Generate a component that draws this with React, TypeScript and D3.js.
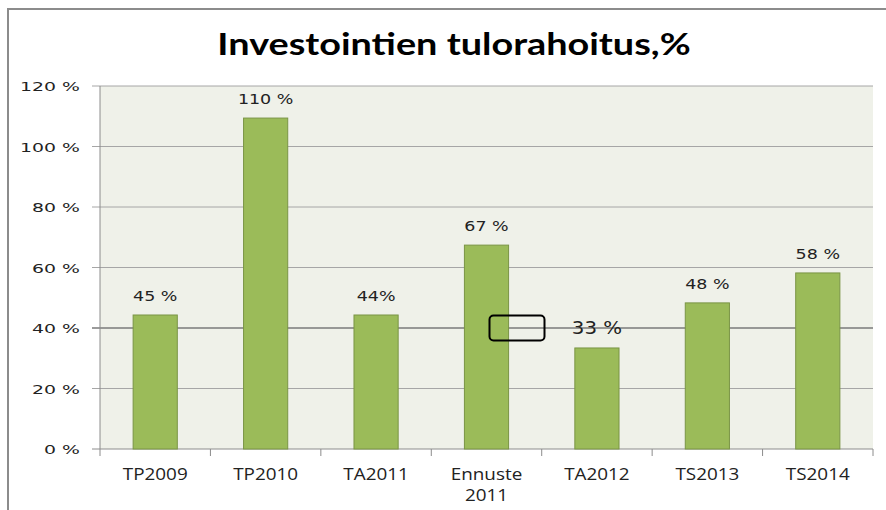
import React, { useRef, useEffect } from 'react';
import * as d3 from 'd3';

// chart values
const categories = ['TP2009', 'TP2010', 'TA2011', 'Ennuste\n2011', 'TA2012', 'TS2013', 'TS2014'];
const values = [0.443, 1.094, 0.443, 0.674, 0.334, 0.483, 0.582];
const valueLabels = ['45 %', '110 %', '44%', '67 %', '33 %', '48 %', '58 %'];
const yTicks = [0, 0.2, 0.4, 0.6, 0.8, 1.0, 1.2];
const title = 'Investointien tulorahoitus,%';

export default function App() {
  const svgRef = useRef<SVGSVGElement>(null);
  const width = 886;
  const height = 510;
  const margin = { top: 86, right: 13, bottom: 61, left: 100 };

  useEffect(() => {
    const svg = d3.select(svgRef.current);
    svg.selectAll('*').remove();

    const x = d3.scaleBand()
      .domain(categories)
      .range([margin.left, width - margin.right])
      .paddingInner(0.6)
      .paddingOuter(0.3);

    const y = d3.scaleLinear()
      .domain([0, 1.2])
      .range([height - margin.bottom, margin.top]);

    // the original picture is stretched sideways, so text is too
    const place = (px: number, py: number, sx: number) =>
      `translate(${px},${py}) scale(${sx},1)`;

    // outer frame
    svg.append('path')
      .attr('d', `M8,${height} L8,9 L${width},9`)
      .attr('fill', 'none')
      .attr('stroke', '#8c8c8c')
      .attr('stroke-width', 2);

    svg.append('text')
      .attr('transform', place(454, 55, 1.22))
      .attr('text-anchor', 'middle')
      .style('font-family', 'Lato, sans-serif')
      .style('font-weight', 'bold')
      .style('font-size', '31px')
      .attr('fill', '#000')
      .text(title);

    // plot area
    svg.append('rect')
      .attr('x', margin.left)
      .attr('y', margin.top)
      .attr('width', width - margin.left - margin.right)
      .attr('height', height - margin.top - margin.bottom)
      .attr('fill', '#eff1e9');

    // grid lines
    svg.append('g')
      .selectAll('line')
      .data(yTicks.filter(t => t > 0))
      .join('line')
      .attr('x1', margin.left - 8)
      .attr('x2', width - margin.right)
      .attr('y1', d => y(d))
      .attr('y2', d => y(d))
      .attr('stroke', d => (Math.abs(d - 0.4) < 1e-6 ? '#7a7a7a' : '#a6a6a6'))
      .attr('stroke-width', d => (Math.abs(d - 0.4) < 1e-6 ? 1.5 : 1));

    // y tick labels
    svg.append('g')
      .selectAll('text')
      .data(yTicks)
      .join('text')
      .attr('transform', d => place(margin.left - 20, y(d) + 5, 1.45))
      .attr('text-anchor', 'end')
      .style('font-family', '"DejaVu Sans", Verdana, sans-serif')
      .style('font-size', '13px')
      .attr('fill', '#222')
      .text(d => `${Math.round(d * 100)} %`);

    // y axis line
    svg.append('line')
      .attr('x1', margin.left).attr('x2', margin.left)
      .attr('y1', margin.top).attr('y2', y(0))
      .attr('stroke', '#8c8c8c');

    // x axis line + ticks
    svg.append('line')
      .attr('x1', margin.left - 8).attr('x2', width - margin.right)
      .attr('y1', y(0)).attr('y2', y(0))
      .attr('stroke', '#8c8c8c');

    const step = x.step();
    const bounds = d3.range(categories.length + 1).map(i => margin.left + i * step);
    svg.append('g')
      .selectAll('line')
      .data(bounds)
      .join('line')
      .attr('x1', d => d).attr('x2', d => d)
      .attr('y1', y(0)).attr('y2', y(0) + 7)
      .attr('stroke', '#8c8c8c');

    // bars
    svg.append('g')
      .selectAll('rect')
      .data(values)
      .join('rect')
      .attr('x', (d, i) => x(categories[i])!)
      .attr('y', d => y(d))
      .attr('width', x.bandwidth())
      .attr('height', d => y(0) - y(d))
      .attr('fill', '#9bbb59')
      .attr('stroke', '#7a9545')
      .attr('stroke-width', 1);

    // value labels
    svg.append('g')
      .selectAll('text')
      .data(values)
      .join('text')
      .attr('transform', (d, i) =>
        place(x(categories[i])! + x.bandwidth() / 2, y(d) - 14, i === 4 ? 1.1 : 1.25))
      .attr('text-anchor', 'middle')
      .style('font-family', '"DejaVu Sans", Verdana, sans-serif')
      .style('font-size', (d, i) => (i === 4 ? '18px' : '14px'))
      .attr('fill', '#222')
      .text((d, i) => valueLabels[i]);

    // category labels
    const catG = svg.append('g')
      .selectAll('text')
      .data(categories)
      .join('text')
      .attr('transform', d => place(x(d)! + x.bandwidth() / 2, y(0) + 31, 1.18))
      .attr('text-anchor', 'middle')
      .style('font-family', '"Open Sans", sans-serif')
      .style('font-size', '16px')
      .attr('fill', '#222');
    catG.selectAll('tspan')
      .data(d => d.split('\n'))
      .join('tspan')
      .attr('x', 0)
      .attr('dy', (d, i) => (i === 0 ? 0 : 21))
      .text(d => d);

    // annotation box around the 40 % line
    const ennuste = categories[3];
    const bx = x(ennuste)! + x.bandwidth() / 2 + 3;
    svg.append('rect')
      .attr('x', bx)
      .attr('y', y(0.4) - 12.5)
      .attr('width', 55)
      .attr('height', 25)
      .attr('rx', 4)
      .attr('fill', 'none')
      .attr('stroke', '#000')
      .attr('stroke-width', 2);
  }, []);

  return (
    <svg
      ref={svgRef}
      width={width}
      height={height}
      style={{ position: 'absolute', left: 0, top: 0, background: '#fff' }}
    />
  );
}
